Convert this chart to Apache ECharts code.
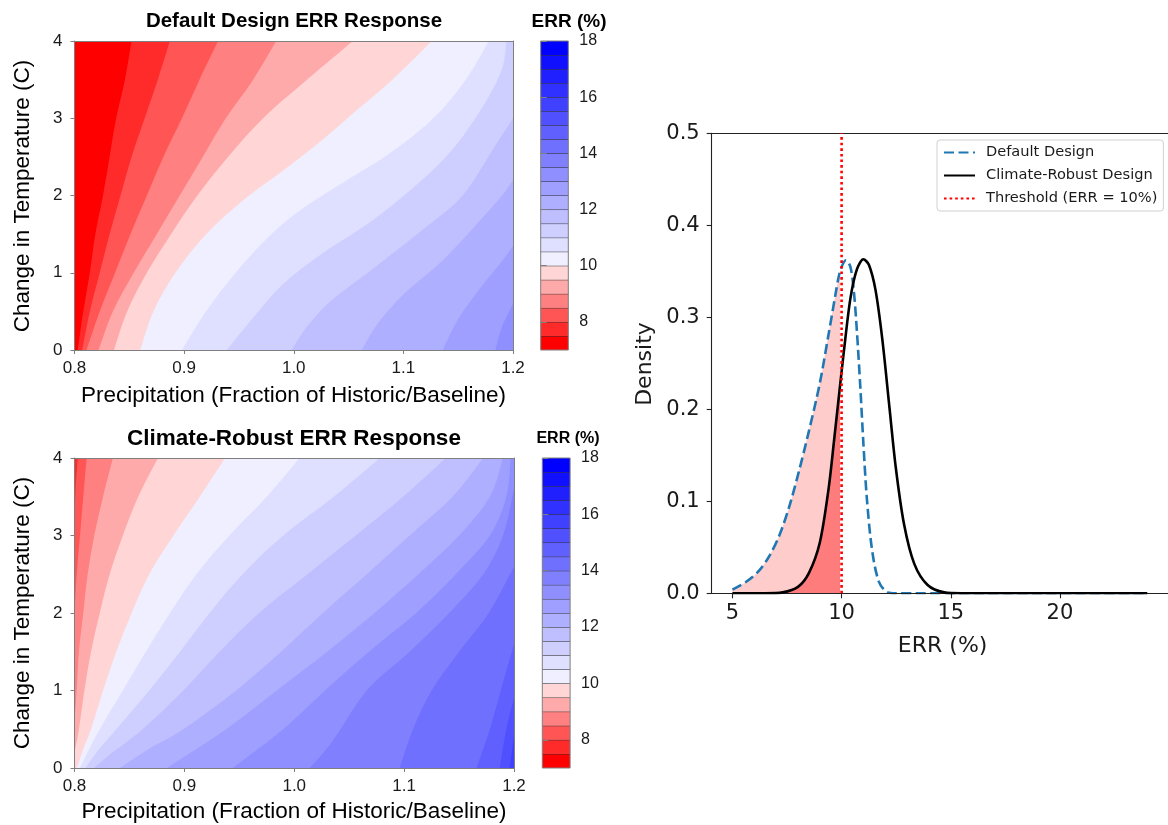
<!DOCTYPE html>
<html>
<head>
<meta charset="utf-8">
<title>ERR response and density</title>
<script src="https://cdn.jsdelivr.net/npm/echarts@6/dist/echarts.min.js"></script>
<style>
  html, body { margin: 0; padding: 0; background: #ffffff; }
  #chart { width: 1168px; height: 825px; }
</style>
</head>
<body>
<div id="chart"></div>
<script>
// ---------- axes and levels ----------
const P_RANGE = [0.8, 1.2];          // precipitation, fraction of historic
const T_RANGE = [0, 4];              // change in temperature (C)
const P_TICKS = [0.8, 0.9, 1.0, 1.1, 1.2];
const T_TICKS = [0, 1, 2, 3, 4];
const ERR_LEVELS = [7, 7.5, 8, 8.5, 9, 9.5, 10, 10.5, 11, 11.5, 12, 12.5,
                    13, 13.5, 14, 14.5, 15, 15.5, 16, 16.5, 17, 17.5, 18];
const CBAR_TICKS = [8, 10, 12, 14, 16, 18];

// ---------- default design: ERR contour lines, [precip, dT], bottom/left edge -> top/right edge ----------
const DEFAULT_LEVELS = [7.5, 8, 8.5, 9, 9.5, 10, 10.5, 11, 11.5, 12, 12.5, 13];
const DEFAULT_LINES = [
  [[0.803, 0], [0.808, 0.5], [0.814, 1], [0.819, 1.5], [0.826, 2], [0.832, 2.5], [0.838, 3], [0.846, 3.5], [0.852, 4]],
  [[0.807, 0], [0.814, 0.5], [0.823, 1], [0.832, 1.5], [0.842, 2], [0.852, 2.5], [0.864, 3], [0.876, 3.5], [0.887, 4]],
  [[0.811, 0], [0.823, 0.5], [0.837, 1], [0.851, 1.5], [0.866, 2], [0.881, 2.5], [0.898, 3], [0.914, 3.5], [0.931, 4]],
  [[0.822, 0], [0.835, 0.5], [0.854, 1], [0.875, 1.5], [0.896, 2], [0.917, 2.5], [0.938, 3], [0.963, 3.5], [0.984, 4]],
  [[0.836, 0], [0.848, 0.5], [0.866, 1], [0.888, 1.5], [0.912, 2.0], [0.94, 2.5], [0.972, 3.0], [1.008, 3.45], [1.054, 4]],
  [[0.86, 0], [0.872, 0.5], [0.892, 1.0], [0.92, 1.5], [0.955, 1.95], [0.99, 2.32], [1.026, 2.72], [1.057, 3.1], [1.09, 3.5], [1.126, 4]],
  [[0.898, 0], [0.92, 0.5], [0.947, 1], [0.976, 1.45], [1.005, 1.8], [1.043, 2.15], [1.085, 2.52], [1.126, 2.98], [1.157, 3.5], [1.178, 4]],
  [[0.939, 0], [0.962, 0.4], [0.99, 0.85], [1.026, 1.25], [1.072, 1.68], [1.117, 2.2], [1.148, 2.65], [1.175, 3.21], [1.19, 3.64], [1.194, 4]],
  [[0.998, 0], [1.012, 0.3], [1.035, 0.65], [1.072, 1.05], [1.117, 1.55], [1.154, 2.0], [1.184, 2.65], [1.2, 3.0]],
  [[1.062, 0], [1.077, 0.35], [1.1, 0.72], [1.135, 1.15], [1.165, 1.6], [1.19, 2.0], [1.2, 2.2]],
  [[1.136, 0], [1.15, 0.4], [1.17, 0.8], [1.19, 1.15], [1.2, 1.35]],
  [[1.184, 0], [1.19, 0.3], [1.2, 0.6]]
];

// ---------- climate-robust design: ERR contour lines ----------
const ROBUST_LEVELS = [8, 8.5, 9, 9.5, 10, 10.5, 11, 11.5, 12, 12.5, 13, 13.5, 14, 14.5, 15, 15.5];
const ROBUST_LINES = [
  [[0.8, 3.2], [0.801, 3.6], [0.803, 4]],
  [[0.8, 2.0], [0.802, 2.5], [0.805, 3.0], [0.808, 3.5], [0.811, 4]],
  [[0.8, 0.6], [0.802, 1.0], [0.804, 1.5], [0.808, 2], [0.812, 2.5], [0.818, 3], [0.826, 3.5], [0.835, 4]],
  [[0.8, 0.2], [0.804, 0.5], [0.809, 1], [0.815, 1.5], [0.823, 2], [0.832, 2.5], [0.844, 3], [0.858, 3.5], [0.876, 4]],
  [[0.802, 0], [0.808, 0.25], [0.815, 0.5], [0.826, 1], [0.838, 1.5], [0.852, 2], [0.868, 2.5], [0.89, 3], [0.914, 3.5], [0.937, 4]],
  [[0.805, 0], [0.812, 0.2], [0.823, 0.5], [0.844, 1], [0.865, 1.5], [0.887, 2], [0.911, 2.5], [0.941, 3], [0.975, 3.5], [1.005, 4]],
  [[0.81, 0], [0.82, 0.2], [0.838, 0.5], [0.868, 1], [0.896, 1.5], [0.923, 2], [0.953, 2.5], [0.99, 3], [1.036, 3.5], [1.078, 4]],
  [[0.818, 0], [0.832, 0.17], [0.862, 0.5], [0.899, 1], [0.932, 1.5], [0.968, 2], [1.012, 2.5], [1.056, 3], [1.099, 3.5], [1.138, 4]],
  [[0.841, 0], [0.868, 0.25], [0.899, 0.5], [0.947, 1], [0.988, 1.5], [1.026, 2], [1.066, 2.5], [1.105, 3], [1.144, 3.5], [1.172, 4]],
  [[0.884, 0], [0.938, 0.5], [0.984, 1], [1.03, 1.5], [1.073, 2], [1.113, 2.5], [1.15, 3], [1.178, 3.5], [1.19, 4]],
  [[0.944, 0], [0.99, 0.5], [1.028, 1], [1.068, 1.5], [1.111, 2], [1.147, 2.5], [1.178, 3], [1.193, 3.5], [1.197, 4]],
  [[1.014, 0], [1.035, 0.35], [1.066, 1], [1.105, 1.5], [1.141, 2], [1.172, 2.5], [1.19, 3], [1.2, 3.6]],
  [[1.096, 0], [1.108, 0.5], [1.125, 1], [1.15, 1.5], [1.177, 2], [1.2, 2.6]],
  [[1.166, 0], [1.178, 0.5], [1.188, 1], [1.2, 1.6]],
  [[1.187, 0], [1.193, 0.5], [1.2, 0.9]],
  [[1.196, 0], [1.2, 0.4]]
];

// ---------- ERR density curves, [ERR %, density] ----------
const DEFAULT_PDF = [
  [5, 0.004], [5.6, 0.012], [6.2, 0.024], [6.7, 0.041], [7.15, 0.063], [7.6, 0.094],
  [8.05, 0.133], [8.5, 0.176], [9.0, 0.228], [9.4, 0.281], [9.7, 0.322], [9.93, 0.350],
  [10.2, 0.362], [10.4, 0.355], [10.55, 0.331], [10.7, 0.285], [10.86, 0.223], [11.0, 0.162],
  [11.16, 0.102], [11.39, 0.048], [11.7, 0.013], [12.1, 0.001], [12.5, 0], [24, 0]
];
const ROBUST_PDF = [
  [5, 0], [6.5, 0], [7.3, 0.001], [8.0, 0.007], [8.5, 0.022], [9.0, 0.055], [9.4, 0.113],
  [9.65, 0.165], [9.93, 0.226], [10.1, 0.262], [10.4, 0.320], [10.7, 0.352], [11.0, 0.363],
  [11.25, 0.357], [11.55, 0.330], [11.86, 0.277], [12.17, 0.207], [12.48, 0.137], [12.86, 0.075],
  [13.33, 0.032], [13.94, 0.009], [14.7, 0.001], [15.5, 0], [24, 0]
];
const ERR_THRESHOLD = 10;
const FILL_LIMIT = 9.93;              // last ERR sample below the threshold
const ERR_RANGE = [4.05, 24.95];
const ERR_TICKS = [5, 10, 15, 20];
const DENSITY_RANGE = [0, 0.5];

// ---------- styles ----------
const BAND_COLORS = [
  '#ff0000', '#ff2b2b', '#ff5555', '#ff8080', '#ffaaaa', '#ffd5d5',
  '#efefff', '#dfdfff', '#cfcfff', '#bfbfff', '#afafff', '#9f9fff', '#8f8fff', '#8080ff',
  '#7070ff', '#6060ff', '#5050ff', '#4040ff', '#3030ff', '#2020ff', '#1010ff', '#0000ff'
];
const FONT_A = '"Liberation Sans", Arial, sans-serif';
const FONT_D = '"DejaVu Sans", sans-serif';
const FRAME = '#7f7f7f';
const INK = '#1a1a1a';

// smooth path through pixel points (Catmull-Rom drawn as cubic Beziers)
function curvePath(px) {
  let d = 'M' + px[0][0] + ' ' + px[0][1];
  for (let i = 0; i < px.length - 1; i++) {
    const p0 = px[i - 1] || px[i], p1 = px[i], p2 = px[i + 1], p3 = px[i + 2] || px[i + 1];
    const c1 = [p1[0] + (p2[0] - p0[0]) / 6, p1[1] + (p2[1] - p0[1]) / 6];
    const c2 = [p2[0] - (p3[0] - p1[0]) / 6, p2[1] - (p3[1] - p1[1]) / 6];
    d += ' C' + c1[0] + ' ' + c1[1] + ' ' + c2[0] + ' ' + c2[1] + ' ' + p2[0] + ' ' + p2[1];
  }
  return d;
}

// filled contours: background band, then region ERR < level for each level from high to low
function contourRenderer(levels, lines) {
  return function (params, api) {
    const idx = params.dataIndex;
    const x0 = P_RANGE[0], x1 = P_RANGE[1], y0 = T_RANGE[0], y1 = T_RANGE[1];
    if (idx === 0) {
      const a = api.coord([x0, y1]), b = api.coord([x1, y0]);
      return { type: 'rect', shape: { x: a[0], y: a[1], width: b[0] - a[0], height: b[1] - a[1] },
               style: { fill: BAND_COLORS[ERR_LEVELS.indexOf(levels[levels.length - 1])] } };
    }
    const k = levels.length - idx;
    const line = lines[k];
    const s = line[0], e = line[line.length - 1];
    const corners = [];
    if (e[0] >= x1 && e[1] < y1) corners.push([x1, y1]);
    corners.push([x0, y1]);
    if (s[1] <= y0 && s[0] > x0) corners.push([x0, y0]);
    let d = curvePath(line.map(p => api.coord(p)));
    corners.forEach(c => { const q = api.coord(c); d += ' L' + q[0] + ' ' + q[1]; });
    d += ' Z';
    return { type: 'path', shape: { pathData: d },
             style: { fill: BAND_COLORS[ERR_LEVELS.indexOf(levels[k]) - 1] } };
  };
}

function colorbarRenderer(params, api) {
  const i = params.dataIndex;
  const lo = api.coord([0, ERR_LEVELS[i]]), hi = api.coord([1, ERR_LEVELS[i + 1]]);
  const children = [
    { type: 'rect', shape: { x: lo[0], y: hi[1], width: hi[0] - lo[0], height: lo[1] - hi[1] },
      style: { fill: BAND_COLORS[i] } }
  ];
  if (i < ERR_LEVELS.length - 2) {
    children.push({ type: 'line', shape: { x1: lo[0], y1: hi[1], x2: hi[0], y2: hi[1] },
                    style: { stroke: '#2a2a2a', lineWidth: 1 } });
  } else {
    const a = api.coord([0, ERR_LEVELS[ERR_LEVELS.length - 1]]), b = api.coord([1, ERR_LEVELS[0]]);
    children.push({ type: 'rect', shape: { x: a[0], y: a[1], width: b[0] - a[0], height: b[1] - a[1] },
                    style: { fill: 'none', stroke: FRAME, lineWidth: 1 } });
  }
  return { type: 'group', children };
}

// ---------- axes ----------
function plotXAxes(gi) {
  return [
    { gridIndex: gi, type: 'value', min: P_RANGE[0], max: P_RANGE[1], position: 'bottom', z: 5,
      axisLine: { show: true, onZero: false, lineStyle: { color: FRAME, width: 1 } },
      axisTick: { show: true, length: 4, customValues: P_TICKS, lineStyle: { color: FRAME } },
      axisLabel: { customValues: P_TICKS, formatter: v => v.toFixed(1), fontFamily: FONT_A,
                   fontSize: 17, color: INK, margin: 10 },
      splitLine: { show: false } },
    { gridIndex: gi, type: 'value', min: P_RANGE[0], max: P_RANGE[1], position: 'top', z: 5,
      axisLine: { show: true, onZero: false, lineStyle: { color: FRAME, width: 1 } },
      axisTick: { show: false }, axisLabel: { show: false }, splitLine: { show: false } }
  ];
}
function plotYAxes(gi) {
  return [
    { gridIndex: gi, type: 'value', min: T_RANGE[0], max: T_RANGE[1], position: 'left', z: 5,
      axisLine: { show: true, onZero: false, lineStyle: { color: FRAME, width: 1 } },
      axisTick: { show: true, length: 4, customValues: T_TICKS, lineStyle: { color: FRAME } },
      axisLabel: { customValues: T_TICKS, fontFamily: FONT_A, fontSize: 17, color: INK, margin: 12 },
      splitLine: { show: false } },
    { gridIndex: gi, type: 'value', min: T_RANGE[0], max: T_RANGE[1], position: 'right', z: 5,
      axisLine: { show: true, onZero: false, lineStyle: { color: FRAME, width: 1 } },
      axisTick: { show: false }, axisLabel: { show: false }, splitLine: { show: false } }
  ];
}
function cbarXAxis(gi) {
  return { gridIndex: gi, type: 'value', min: 0, max: 1, show: false };
}
function cbarYAxis(gi) {
  return { gridIndex: gi, type: 'value', min: ERR_LEVELS[0], max: ERR_LEVELS[ERR_LEVELS.length - 1],
           position: 'right', z: 5,
           axisLine: { show: false },
           axisTick: { show: true, length: 6, customValues: CBAR_TICKS, lineStyle: { color: FRAME } },
           axisLabel: { customValues: CBAR_TICKS, fontFamily: FONT_A, fontSize: 16, color: INK, margin: 11 },
           splitLine: { show: false } };
}

const densityAxisLine = { show: true, onZero: false, lineStyle: { color: '#222', width: 1.1 } };

const option = {
  backgroundColor: '#ffffff',
  animation: false,
  grid: [
    { left: 74.5, top: 41, width: 438.5, height: 309 },
    { left: 540.7, top: 41, width: 27.6, height: 309 },
    { left: 74.5, top: 458, width: 439.5, height: 310 },
    { left: 542.3, top: 458, width: 27.8, height: 310 },
    { left: 711.7, top: 133.2, width: 461.9, height: 460.1 }
  ],
  xAxis: [
    ...plotXAxes(0), cbarXAxis(1), ...plotXAxes(2), cbarXAxis(3),
    { gridIndex: 4, type: 'value', min: ERR_RANGE[0], max: ERR_RANGE[1], position: 'bottom', z: 5,
      axisLine: densityAxisLine,
      axisTick: { show: true, length: 5, customValues: ERR_TICKS, lineStyle: { color: '#222', width: 1.1 } },
      axisLabel: { customValues: ERR_TICKS, fontFamily: FONT_D, fontSize: 21, color: INK, margin: 10 },
      splitLine: { show: false } },
    { gridIndex: 4, type: 'value', min: ERR_RANGE[0], max: ERR_RANGE[1], position: 'top', z: 5,
      axisLine: densityAxisLine, axisTick: { show: false }, axisLabel: { show: false }, splitLine: { show: false } }
  ],
  yAxis: [
    ...plotYAxes(0), cbarYAxis(1), ...plotYAxes(2), cbarYAxis(3),
    { gridIndex: 4, type: 'value', min: DENSITY_RANGE[0], max: DENSITY_RANGE[1], interval: 0.1, position: 'left', z: 5,
      axisLine: densityAxisLine,
      axisTick: { show: true, length: 5, lineStyle: { color: '#222', width: 1.1 } },
      axisLabel: { formatter: v => v.toFixed(1), fontFamily: FONT_D, fontSize: 21, color: INK, margin: 12 },
      splitLine: { show: false } }
  ],
  legend: {
    data: ['Default Design', 'Climate-Robust Design', 'Threshold (ERR = 10%)'],
    orient: 'vertical', left: 937, top: 140,
    itemWidth: 31, itemHeight: 14, itemGap: 8,
    padding: [5, 6, 5, 6],
    borderColor: '#d0d0d0', borderWidth: 1, borderRadius: 3,
    backgroundColor: 'rgba(255,255,255,0.85)',
    itemStyle: { opacity: 0, borderWidth: 0 },
    textStyle: { fontFamily: FONT_D, fontSize: 14.6, color: INK, padding: [0, 0, 0, 6] },
    selectedMode: false
  },
  series: [
    { type: 'custom', xAxisIndex: 0, yAxisIndex: 0, clip: true, silent: true,
      renderItem: contourRenderer(DEFAULT_LEVELS, DEFAULT_LINES),
      data: [[0, 0]].concat(DEFAULT_LEVELS.map((L, i) => [i + 1, L])) },
    { type: 'custom', xAxisIndex: 2, yAxisIndex: 2, silent: true, renderItem: colorbarRenderer,
      data: ERR_LEVELS.slice(0, -1).map((L, i) => [i, L]) },
    { type: 'custom', xAxisIndex: 3, yAxisIndex: 3, clip: true, silent: true,
      renderItem: contourRenderer(ROBUST_LEVELS, ROBUST_LINES),
      data: [[0, 0]].concat(ROBUST_LEVELS.map((L, i) => [i + 1, L])) },
    { type: 'custom', xAxisIndex: 5, yAxisIndex: 5, silent: true, renderItem: colorbarRenderer,
      data: ERR_LEVELS.slice(0, -1).map((L, i) => [i, L]) },

    // shaded probability below the threshold
    { name: 'default-below', type: 'line', xAxisIndex: 6, yAxisIndex: 6, z: 1, silent: true,
      data: DEFAULT_PDF.filter(p => p[0] <= FILL_LIMIT), smooth: 0.3, symbol: 'none',
      lineStyle: { width: 0 }, areaStyle: { color: '#ffcccc', opacity: 1 } },
    { name: 'robust-below', type: 'line', xAxisIndex: 6, yAxisIndex: 6, z: 2, silent: true,
      data: ROBUST_PDF.filter(p => p[0] <= FILL_LIMIT), smooth: 0.3, symbol: 'none',
      lineStyle: { width: 0 }, areaStyle: { color: '#ff7c7c', opacity: 1 } },

    { name: 'Default Design', type: 'line', xAxisIndex: 6, yAxisIndex: 6, z: 4,
      data: DEFAULT_PDF, smooth: 0.3, symbol: 'none',
      lineStyle: { color: '#1f77b4', width: 2.6, type: [10, 4.5] }, itemStyle: { color: '#1f77b4' } },
    { name: 'Climate-Robust Design', type: 'line', xAxisIndex: 6, yAxisIndex: 6, z: 5,
      data: ROBUST_PDF, smooth: 0.3, symbol: 'none',
      lineStyle: { color: '#000000', width: 2.6 }, itemStyle: { color: '#000000' } },
    { name: 'Threshold (ERR = 10%)', type: 'line', xAxisIndex: 6, yAxisIndex: 6, z: 6,
      data: [[ERR_THRESHOLD, DENSITY_RANGE[0]], [ERR_THRESHOLD, DENSITY_RANGE[1]]], symbol: 'none',
      lineStyle: { color: '#ff0000', width: 2.6, type: [2.6, 3] }, itemStyle: { color: '#ff0000' } }
  ],
  graphic: [
    { type: 'text', x: 294, y: 21.5, style: { text: 'Default Design ERR Response', font: 'bold 20.5px ' + FONT_A, fill: '#000', align: 'center', verticalAlign: 'middle' } },
    { type: 'text', x: 569, y: 21.5, style: { text: 'ERR (%)', font: 'bold 19px ' + FONT_A, fill: '#000', align: 'center', verticalAlign: 'middle' } },
    { type: 'text', x: 294, y: 438.5, style: { text: 'Climate-Robust ERR Response', font: 'bold 22.5px ' + FONT_A, fill: '#000', align: 'center', verticalAlign: 'middle' } },
    { type: 'text', x: 568, y: 439, style: { text: 'ERR (%)', font: 'bold 16px ' + FONT_A, fill: '#000', align: 'center', verticalAlign: 'middle' } },
    { type: 'text', x: 293.5, y: 396, style: { text: 'Precipitation (Fraction of Historic/Baseline)', font: '22.5px ' + FONT_A, fill: '#000', align: 'center', verticalAlign: 'middle' } },
    { type: 'text', x: 294, y: 812, style: { text: 'Precipitation (Fraction of Historic/Baseline)', font: '22.5px ' + FONT_A, fill: '#000', align: 'center', verticalAlign: 'middle' } },
    { type: 'text', x: 23, y: 196, rotation: Math.PI / 2, style: { text: 'Change in Temperature (C)', font: '22.5px ' + FONT_A, fill: '#000', align: 'center', verticalAlign: 'middle' } },
    { type: 'text', x: 23, y: 613, rotation: Math.PI / 2, style: { text: 'Change in Temperature (C)', font: '22.5px ' + FONT_A, fill: '#000', align: 'center', verticalAlign: 'middle' } },
    { type: 'text', x: 645, y: 364, rotation: Math.PI / 2, style: { text: 'Density', font: '22px ' + FONT_D, fill: INK, align: 'center', verticalAlign: 'middle' } },
    { type: 'text', x: 942.6, y: 646, style: { text: 'ERR (%)', font: '22px ' + FONT_D, fill: INK, align: 'center', verticalAlign: 'middle' } }
  ]
};

const chart = echarts.init(document.getElementById('chart'), null, { renderer: 'canvas' });
chart.setOption(option);
</script>
</body>
</html>
